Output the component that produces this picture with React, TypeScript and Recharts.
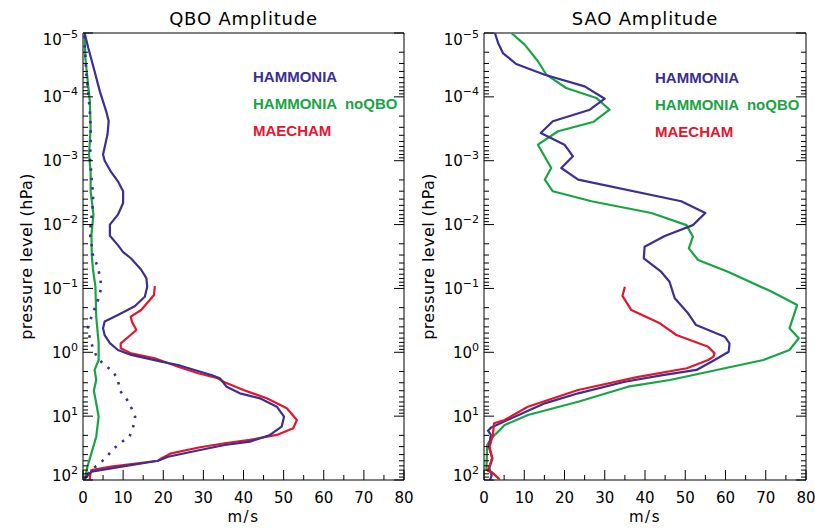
import React from "react";
import { ScatterChart, Scatter, XAxis, YAxis } from "recharts";

// each point is [amplitude m/s, pressure hPa], listed from top of the atmosphere down
type Pt = [number, number];

const qboHammonia: Pt[] = [
  [0.4, 1e-5], [1.3, 1.7e-5], [2.9, 4.0e-5], [4.2, 8.2e-5], [5.8, 1.7e-4], [6.4, 2.4e-4],
  [6.1, 3.9e-4], [5.0, 8.0e-4], [5.4, 1.0e-3], [7.0, 1.5e-3], [8.7, 2.1e-3], [10.0, 3.0e-3],
  [10.0, 4.6e-3], [8.7, 7.0e-3], [6.7, 1.0e-2], [6.7, 1.5e-2], [8.7, 2.1e-2], [10.0, 2.7e-2],
  [12.0, 3.4e-2], [14.5, 5.1e-2], [15.8, 6.9e-2], [16.0, 9.4e-2], [15.4, 0.135], [12.9, 0.19],
  [8.7, 0.26], [5.4, 0.33], [5.0, 0.42], [5.4, 0.54], [6.7, 0.72], [8.7, 0.92], [12.0, 1.1],
  [19.5, 1.4], [23.7, 1.58], [27.8, 1.89], [32.0, 2.27], [34.1, 2.55], [35.8, 3.46], [39.1, 4.39],
  [44.1, 5.26], [48.3, 7.1], [50.1, 10.2], [49.5, 14.6], [46.6, 19.7], [41.6, 25.1], [35.3, 28.3],
  [29.2, 33.9], [21.2, 43.2], [18.7, 50], [7.0, 65.6], [2.1, 74.1], [0.8, 88.8], [0.4, 100],
];

const qboMaecham: Pt[] = [
  [17.9, 0.092], [17.7, 0.127], [14.5, 0.218], [11.9, 0.277], [12.2, 0.332], [13.3, 0.448],
  [11.2, 0.582], [9.4, 0.723], [9.4, 0.867], [12.0, 1.04], [17.9, 1.24], [23.7, 1.68],
  [28.7, 2.13], [33.6, 2.55], [35.0, 2.89], [40.0, 3.9], [45.8, 5.26], [50.8, 7.54],
  [53.3, 11.5], [52.4, 15.5], [48.3, 19.7], [41.6, 23.6], [35.3, 26.6], [29.2, 30.7],
  [22.0, 38.2], [19.5, 46], [18.7, 49.9], [7.0, 61.9], [2.1, 69.7], [1.7, 88.8], [1.7, 100],
];

const qboNoQbo: Pt[] = [
  [0.4, 1e-5], [0.6, 2.5e-5], [1.1, 5.1e-5], [1.7, 1.17e-4], [1.9, 3.1e-4], [1.5, 8.0e-4],
  [1.9, 1.5e-3], [1.9, 3.0e-3], [2.6, 7.0e-3], [2.1, 1.44e-2], [2.2, 3.1e-2], [2.5, 5.1e-2],
  [3.1, 9.4e-2], [3.3, 0.28], [3.9, 0.72], [3.9, 1.32], [2.9, 1.89], [3.3, 2.72], [2.7, 4.0],
  [3.3, 6.3], [3.9, 10.2], [3.3, 21], [2.1, 38], [1.1, 62], [0.4, 100],
];

const qboHammoniaDotted: Pt[] = [
  [0.25, 1.1e-5], [0.4, 1.6e-5], [0.6, 2.3e-5], [0.75, 3.5e-5], [0.9, 5.1e-5], [1.25, 7.3e-5],
  [1.4, 1.04e-4], [1.7, 1.6e-4], [1.8, 2.3e-4], [1.9, 3.1e-4], [1.9, 4.4e-4], [1.9, 5.9e-4],
  [1.7, 8.5e-4], [2.0, 1.4e-3], [2.2, 2.2e-3], [2.5, 3.2e-3], [2.5, 4.6e-3], [2.2, 7.0e-3],
  [1.9, 1.0e-2], [1.8, 1.5e-2], [2.2, 2.2e-2], [2.5, 3.1e-2], [3.7, 4.6e-2], [4.2, 6.5e-2],
  [4.6, 9.4e-2], [3.9, 0.143], [2.1, 0.277], [1.25, 0.42], [1.7, 0.6], [2.5, 0.87], [3.6, 1.24],
  [5.4, 1.58], [7.5, 2.0], [8.7, 2.7], [9.2, 4.0], [10.8, 5.3], [12.0, 7.3], [13.0, 10.2],
  [12.5, 14.6], [11.6, 21], [9.4, 26], [7.5, 33], [5.8, 44], [3.9, 57], [1.9, 70], [0.8, 89],
  [0.5, 100],
];

const saoHammonia: Pt[] = [
  [2.7, 1e-5], [3.5, 1.43e-5], [4.7, 2.06e-5], [8.0, 3.06e-5], [15.1, 4.5e-5], [25.0, 6.84e-5],
  [30.0, 1.07e-4], [26.3, 1.59e-4], [17.1, 2.41e-4], [14.1, 3.68e-4], [20.0, 5.61e-4],
  [22.1, 8.53e-4], [19.2, 1.3e-3], [23.4, 1.98e-3], [49.0, 4.32e-3], [55.0, 6.59e-3],
  [51.9, 1.02e-2], [44.9, 1.51e-2], [39.9, 2.22e-2], [39.7, 3.37e-2], [44.0, 5.47e-2],
  [46.1, 7.85e-2], [47.4, 0.143], [50.7, 0.245], [52.7, 0.374], [59.8, 0.57], [61.0, 0.723],
  [60.8, 0.979], [57.3, 1.32], [52.8, 1.89], [44.0, 2.3], [35.0, 2.89], [23.4, 4.39],
  [15.1, 6.3], [6.8, 10.8], [1.8, 15.0], [1.0, 16.9], [1.7, 19.7], [1.2, 30], [2.1, 45.7],
  [1.3, 65], [1.9, 85], [1.5, 100],
];

const saoNoQbo: Pt[] = [
  [6.8, 1e-5], [10.1, 1.52e-5], [13.4, 2.77e-5], [15.5, 4.5e-5], [20.4, 7.26e-5], [27.9, 1.04e-4],
  [31.2, 1.59e-4], [27.1, 2.48e-4], [18.4, 3.46e-4], [13.4, 5.61e-4], [16.7, 1.3e-3],
  [15.1, 1.98e-3], [17.1, 3.01e-3], [26.7, 4.32e-3], [41.6, 6.59e-3], [50.3, 1.02e-2],
  [51.9, 1.55e-2], [50.9, 2.36e-2], [53.2, 3.59e-2], [60.6, 5.47e-2], [71.4, 0.112],
  [77.8, 0.182], [75.9, 0.421], [78.2, 0.604], [75.9, 0.921], [69.4, 1.32], [46.2, 2.72],
  [35.8, 3.46], [23.4, 5.94], [10.9, 9.59], [5.1, 13.8], [3.5, 17.5], [2.2, 21], [0.8, 28.3],
  [0.6, 69.7], [1.8, 74.1], [3.6, 94], [3.9, 100],
];

const saoMaecham: Pt[] = [
  [35.0, 0.094], [34.4, 0.131], [36.6, 0.218], [43.7, 0.352], [47.8, 0.536], [55.7, 0.818],
  [57.3, 1.04], [57.0, 1.17], [55.7, 1.32], [50.4, 1.78], [38.0, 2.45], [23.4, 3.9],
  [10.9, 7.11], [5.1, 11.5], [2.5, 12.9], [2.2, 19.7], [1.4, 30.1], [2.0, 45.7], [1.0, 71.5],
  [2.2, 78.5], [3.6, 94], [3.8, 100],
];

const decadeExponents = [-5, -4, -3, -2, -1, 0, 1, 2];
const minorMultipliers = [2, 3, 4, 5, 6, 7, 8, 9];
const xTickValues = [0, 5, 10, 15, 20, 25, 30, 35, 40, 45, 50, 55, 60, 65, 70, 75, 80];
const legendNames = ["HAMMONIA", "HAMMONIA  noQBO", "MAECHAM"];

const BLUE = "#3b2f8f";
const GREEN = "#19a444";
const RED = "#e3152f";
const FONT = "DejaVu Sans";

const yTicks = [
  ...decadeExponents.map((e) => Math.pow(10, e)),
  ...decadeExponents.slice(0, -1).flatMap((e) => minorMultipliers.map((m) => m * Math.pow(10, e))),
];

const isDecade = (v: number) => Math.abs(Math.log10(v) - Math.round(Math.log10(v))) < 1e-6;
const toRows = (pts: Pt[]) => pts.map(([v, p]) => ({ v, p }));

const LeftTick = (props: any) => {
  const { x, y, payload } = props;
  const major = isDecade(payload.value);
  const e = Math.round(Math.log10(payload.value));
  const shift = e === -5 ? 6 : e === 2 ? -5 : 0;
  return (
    <g>
      <line x1={x} y1={y} x2={x + (major ? 10 : 5)} y2={y} stroke="#000" />
      {major && (
        <text x={x - 5} y={y + 5.5 + shift} textAnchor="end" fontSize={15} fontFamily={FONT} fill="#000">
          10
          <tspan dy={-7} fontSize={11}>
            {e < 0 ? `\u2212${-e}` : `${e}`}
          </tspan>
        </text>
      )}
    </g>
  );
};

const RightTick = (props: any) => {
  const { x, y, payload } = props;
  const major = isDecade(payload.value);
  return <line x1={x} y1={y} x2={x - (major ? 10 : 5)} y2={y} stroke="#000" />;
};

const BottomTick = (props: any) => {
  const { x, y, payload } = props;
  const major = payload.value % 10 === 0;
  return (
    <g>
      <line x1={x} y1={y} x2={x} y2={y - (major ? 10 : 5)} stroke="#000" />
      {major && (
        <text x={x} y={y + 22.5} textAnchor="middle" fontSize={15} fontFamily={FONT} fill="#000">
          {payload.value}
        </text>
      )}
    </g>
  );
};

const TopTick = (props: any) => {
  const { x, y, payload } = props;
  const major = payload.value % 10 === 0;
  return <line x1={x} y1={y} x2={x} y2={y + (major ? 10 : 5)} stroke="#000" />;
};

interface SeriesDef {
  pts: Pt[];
  color: string;
  dash?: string;
}

interface PanelProps {
  left: number;
  width: number;
  leftAxisWidth: number;
  rightAxisWidth: number;
  series: SeriesDef[];
}

function Panel({ left, width, leftAxisWidth, rightAxisWidth, series }: PanelProps) {
  const axisCommon = {
    tickLine: false,
    tickSize: 0,
    tickMargin: 0,
    interval: 0 as const,
    allowDataOverflow: true,
    axisLine: { stroke: "#000", strokeWidth: 1 },
  };
  return (
    <div style={{ position: "absolute", left, top: 0 }}>
      <ScatterChart width={width} height={529} margin={{ top: 0, right: 0, bottom: 0, left: 0 }}>
        <XAxis
          xAxisId="bottom"
          dataKey="v"
          type="number"
          domain={[0, 80]}
          ticks={xTickValues}
          height={49}
          tick={(p: any) => <BottomTick {...p} />}
          {...axisCommon}
        />
        <XAxis
          xAxisId="top"
          orientation="top"
          type="number"
          domain={[0, 80]}
          ticks={xTickValues}
          height={33}
          tick={(p: any) => <TopTick {...p} />}
          {...axisCommon}
        />
        <YAxis
          yAxisId="left"
          dataKey="p"
          type="number"
          scale="log"
          reversed
          domain={[1e-5, 100]}
          ticks={yTicks}
          width={leftAxisWidth}
          tick={(p: any) => <LeftTick {...p} />}
          {...axisCommon}
        />
        <YAxis
          yAxisId="right"
          orientation="right"
          type="number"
          scale="log"
          reversed
          domain={[1e-5, 100]}
          ticks={yTicks}
          width={rightAxisWidth}
          tick={(p: any) => <RightTick {...p} />}
          {...axisCommon}
        />
        {series.map((s, i) => (
          <Scatter
            key={i}
            xAxisId="bottom"
            yAxisId="left"
            data={toRows(s.pts)}
            fill={s.color}
            line={{
              stroke: s.color,
              strokeWidth: s.dash ? 2.6 : 2.2,
              strokeDasharray: s.dash,
              strokeLinejoin: "round",
            }}
            shape={() => <g />}
            isAnimationActive={false}
          />
        ))}
      </ScatterChart>
    </div>
  );
}

function Legend({ x, y }: { x: number; y: number }) {
  const colors = [BLUE, GREEN, RED];
  return (
    <g>
      {legendNames.map((name, i) => (
        <text
          key={name}
          x={x}
          y={y + i * 27}
          fontSize={15}
          fontWeight="bold"
          fontFamily="Liberation Sans"
          fill={colors[i]}
          style={{ whiteSpace: "pre" }}
        >
          {name}
        </text>
      ))}
    </g>
  );
}

export default function App() {
  return (
    <div style={{ position: "absolute", left: 0, top: 0, width: 815, height: 529, background: "#fff" }}>
      <Panel
        left={0}
        width={420}
        leftAxisWidth={83}
        rightAxisWidth={16}
        series={[
          { pts: qboNoQbo, color: GREEN },
          { pts: qboHammoniaDotted, color: BLUE, dash: "2.5 7" },
          { pts: qboMaecham, color: RED },
          { pts: qboHammonia, color: BLUE },
        ]}
      />
      <Panel
        left={410}
        width={405}
        leftAxisWidth={74}
        rightAxisWidth={9}
        series={[
          { pts: saoNoQbo, color: GREEN },
          { pts: saoHammonia, color: BLUE },
          { pts: saoMaecham, color: RED },
        ]}
      />
      <svg
        width={815}
        height={529}
        style={{ position: "absolute", left: 0, top: 0, pointerEvents: "none" }}
      >
        <g fontFamily={FONT} fill="#000">
          <text x={243.5} y={25} textAnchor="middle" fontSize={18} letterSpacing={0.8}>
            QBO Amplitude
          </text>
          <text x={645} y={25} textAnchor="middle" fontSize={18} letterSpacing={0.8}>
            SAO Amplitude
          </text>
          <text x={243.5} y={522} textAnchor="middle" fontSize={15} letterSpacing={1.5}>
            m/s
          </text>
          <text x={645} y={522} textAnchor="middle" fontSize={15} letterSpacing={1.5}>
            m/s
          </text>
          <text
            x={32}
            y={256.5}
            textAnchor="middle"
            fontSize={16}
            letterSpacing={0.4}
            transform="rotate(-90 32 256.5)"
          >
            pressure level (hPa)
          </text>
          <text
            x={434}
            y={256.5}
            textAnchor="middle"
            fontSize={16}
            letterSpacing={0.4}
            transform="rotate(-90 434 256.5)"
          >
            pressure level (hPa)
          </text>
        </g>
        <Legend x={253} y={82} />
        <Legend x={655} y={83} />
      </svg>
    </div>
  );
}
